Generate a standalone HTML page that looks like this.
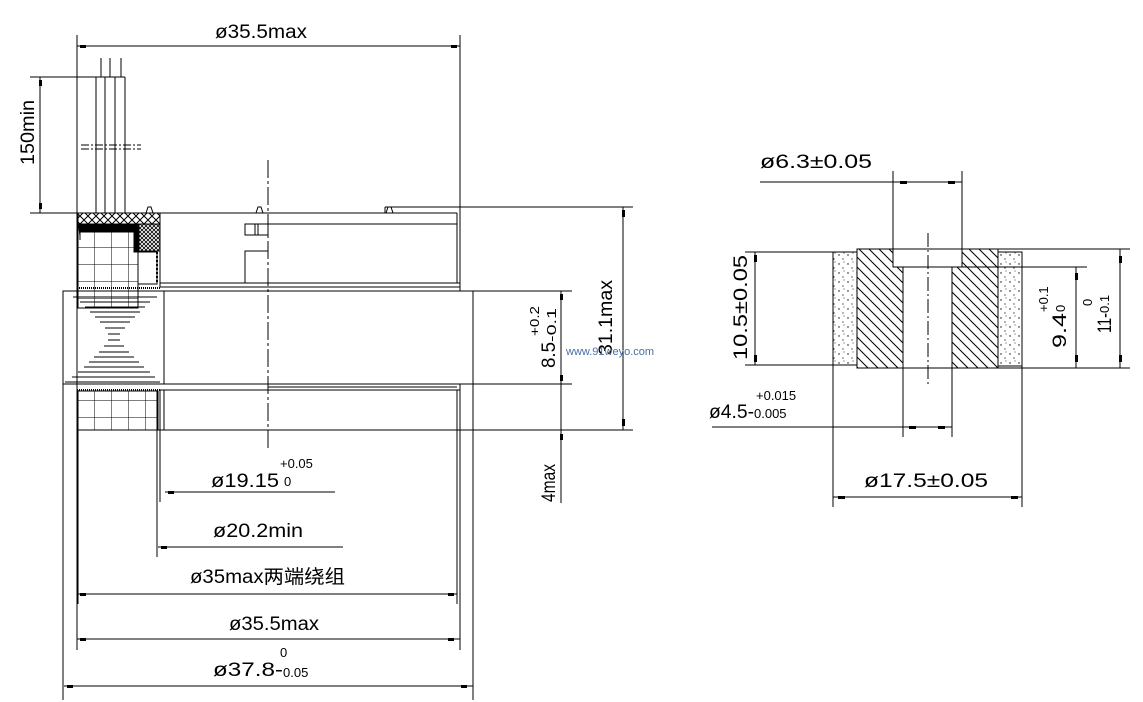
<!DOCTYPE html>
<html><head><meta charset="utf-8"><style>
html,body{margin:0;padding:0;background:#fff;}
svg{display:block;}
text{font-family:"Liberation Sans","Noto Sans CJK SC",sans-serif;fill:#000;}
</style></head><body>
<svg width="1143" height="702" viewBox="0 0 1143 702" xmlns="http://www.w3.org/2000/svg">
<defs>
<pattern id="xh" width="8" height="8" patternUnits="userSpaceOnUse"><path d="M0 0L8 8M8 0L0 8" stroke="#000" stroke-width="1"/></pattern>
<pattern id="xh2" width="4" height="4" patternUnits="userSpaceOnUse"><path d="M0 0L4 4M4 0L0 4" stroke="#000" stroke-width="0.8"/></pattern>
<pattern id="grid" width="17" height="17" patternUnits="userSpaceOnUse" x="77" y="230"><path d="M0 0H17M0 0V17" stroke="#000" stroke-width="1" fill="none"/></pattern>
<pattern id="diag" width="10" height="10" patternUnits="userSpaceOnUse"><path d="M0 0L10 10M-5 5L5 15M5 -5L15 5" stroke="#000" stroke-width="1"/></pattern>
<pattern id="dots" width="9" height="9" patternUnits="userSpaceOnUse"><circle cx="2" cy="3" r="0.7" fill="#000"/><circle cx="6" cy="7" r="0.6" fill="#000"/><circle cx="7" cy="1" r="0.5" fill="#000"/></pattern>
</defs>
<g stroke="#000" stroke-width="1" fill="none">
<line x1="77" y1="46" x2="460" y2="46"/>
<line x1="77" y1="35" x2="77" y2="650"/>
<line x1="460" y1="35" x2="460" y2="291"/>
<line x1="30" y1="77" x2="125" y2="77"/>
<line x1="40" y1="77" x2="40" y2="213"/>
<line x1="30" y1="213" x2="160" y2="213"/>
<line x1="96" y1="77" x2="96" y2="213"/><line x1="105" y1="77" x2="105" y2="213"/><line x1="115" y1="77" x2="115" y2="213"/><line x1="125" y1="77" x2="125" y2="213"/>
<line x1="101" y1="58" x2="101" y2="77"/><line x1="110" y1="58" x2="110" y2="77"/><line x1="121" y1="58" x2="121" y2="77"/>
<line x1="81" y1="145" x2="141" y2="145" stroke-dasharray="8 2 2 2"/><line x1="81" y1="149" x2="141" y2="149" stroke-dasharray="8 2 2 2"/>
<rect x="78" y="213" width="82" height="11" fill="url(#xh)"/>
<rect x="78" y="224" width="60" height="84" fill="url(#grid)"/>
<path d="M78 224H138V252H134V232H80V240" fill="#000" stroke="#000"/>
<rect x="139" y="224" width="21" height="27" fill="url(#xh2)"/>
<rect x="138" y="252" width="19" height="32"/>
<line x1="157" y1="252" x2="157" y2="284" stroke-dasharray="2 2" stroke-width="2"/>
<line x1="160" y1="213" x2="160" y2="287"/>
<line x1="160" y1="213" x2="457" y2="213"/>
<line x1="268" y1="224" x2="457" y2="224"/>
<line x1="457" y1="213" x2="457" y2="283"/>
<line x1="385" y1="207" x2="633" y2="207"/>
<line x1="385" y1="207" x2="385" y2="213"/>
<rect x="245" y="224" width="23" height="11"/>
<line x1="255" y1="224" x2="255" y2="235"/><line x1="258" y1="224" x2="258" y2="235"/>
<path d="M268 251H245V283"/>
<line x1="160" y1="283" x2="268" y2="283"/>
<line x1="160" y1="287" x2="460" y2="287"/>
<line x1="268" y1="283" x2="460" y2="283"/>
<path d="M146 213l2-6h3l2 6M256 213l2-6h3l2 6M386 213l2-6h3l2 6"/>
<rect x="63" y="291" width="101" height="93"/>
<line x1="77" y1="287" x2="77" y2="291"/>
<line x1="164" y1="291" x2="460" y2="291"/>
<line x1="164" y1="384" x2="460" y2="384"/>
<path d="M460 291H473V384H460" />
<line x1="460" y1="291" x2="572" y2="291"/>
<line x1="473" y1="384" x2="572" y2="384"/>
<g stroke-width="1">
<line x1="73" y1="297" x2="157" y2="297"/><line x1="80" y1="302" x2="150" y2="302"/><line x1="85" y1="307" x2="145" y2="307"/><line x1="90" y1="312" x2="140" y2="312"/><line x1="95" y1="317" x2="135" y2="317"/><line x1="100" y1="322" x2="130" y2="322"/><line x1="105" y1="328" x2="125" y2="328"/><line x1="108" y1="334" x2="120" y2="334"/>
<line x1="108" y1="340" x2="120" y2="340"/><line x1="104" y1="346" x2="124" y2="346"/><line x1="99" y1="352" x2="129" y2="352"/><line x1="94" y1="357" x2="134" y2="357"/><line x1="89" y1="362" x2="139" y2="362"/><line x1="84" y1="367" x2="144" y2="367"/><line x1="78" y1="372" x2="150" y2="372"/><line x1="72" y1="377" x2="155" y2="377"/><line x1="65" y1="382" x2="160" y2="382"/>
</g>
<line x1="77" y1="288" x2="160" y2="288" stroke-dasharray="1 1" stroke-width="2"/>
<line x1="77" y1="390" x2="160" y2="390" stroke-dasharray="1 1" stroke-width="2"/>
<rect x="78" y="391" width="80" height="39" fill="url(#grid)"/>
<line x1="160" y1="390" x2="460" y2="390"/>
<line x1="268" y1="387" x2="457" y2="387"/>
<line x1="164" y1="390" x2="164" y2="430"/>
<line x1="90" y1="430" x2="633" y2="430"/>
<line x1="457" y1="390" x2="457" y2="604"/>
<line x1="460" y1="384" x2="460" y2="650"/>
<line x1="473" y1="384" x2="473" y2="700"/>
<line x1="63" y1="384" x2="63" y2="700"/>
<line x1="78" y1="390" x2="78" y2="604"/>
<line x1="160" y1="390" x2="160" y2="502"/>
<line x1="157" y1="390" x2="157" y2="557"/>
<line x1="268" y1="160" x2="268" y2="450" stroke-dasharray="18 3 3 3"/>
<line x1="623" y1="207" x2="623" y2="430"/>
<line x1="561" y1="291" x2="561" y2="503"/>
<line x1="165" y1="492" x2="335" y2="492"/>
<line x1="158" y1="547" x2="343" y2="547"/>
<line x1="78" y1="594" x2="457" y2="594"/>
<line x1="77" y1="639" x2="460" y2="639"/>
<line x1="64" y1="686" x2="473" y2="686"/>

<rect x="833" y="252" width="24" height="113" fill="url(#dots)"/>
<rect x="998" y="252" width="24" height="114" fill="url(#dots)"/>
<path d="M857 249H893V267H903V368H857Z" fill="url(#diag)"/>
<path d="M962 249H998V368H952V267H962Z" fill="url(#diag)"/>
<line x1="857" y1="249" x2="1130" y2="249"/>
<line x1="857" y1="368" x2="1130" y2="368"/>
<line x1="857" y1="249" x2="857" y2="368"/>
<line x1="998" y1="249" x2="998" y2="368"/>
<line x1="893" y1="171" x2="893" y2="267"/>
<line x1="962" y1="171" x2="962" y2="267"/>
<line x1="893" y1="267" x2="1087" y2="267"/>
<line x1="903" y1="267" x2="903" y2="437"/>
<line x1="952" y1="267" x2="952" y2="437"/>
<line x1="928" y1="233" x2="928" y2="387" stroke-dasharray="14 3 2 3"/>
<line x1="745" y1="252" x2="833" y2="252"/>
<line x1="745" y1="365" x2="833" y2="365"/>
<line x1="755" y1="252" x2="755" y2="365"/>
<line x1="1076" y1="267" x2="1076" y2="368"/>
<line x1="1120" y1="249" x2="1120" y2="368"/>
<line x1="760" y1="182" x2="962" y2="182"/>
<line x1="712" y1="427" x2="952" y2="427"/>
<line x1="833" y1="365" x2="833" y2="507"/>
<line x1="1022" y1="366" x2="1022" y2="507"/>
<line x1="833" y1="497" x2="1022" y2="497"/>
</g>
<g fill="#000">
<rect x="80" y="45" width="6" height="3"/><rect x="451" y="45" width="6" height="3"/>
<rect x="39" y="80" width="3" height="6"/><rect x="39" y="203" width="3" height="6"/>
<rect x="622" y="210" width="3" height="7"/><rect x="622" y="419" width="3" height="7"/>
<rect x="560" y="294" width="3" height="6"/><rect x="560" y="375" width="3" height="6"/><rect x="560" y="434" width="3" height="6"/>
<rect x="168" y="491" width="6" height="3"/><rect x="161" y="546" width="6" height="3"/>
<rect x="80" y="593" width="6" height="3"/><rect x="448" y="593" width="6" height="3"/>
<rect x="80" y="638" width="6" height="3"/><rect x="448" y="638" width="6" height="3"/>
<rect x="67" y="685" width="6" height="3"/><rect x="461" y="685" width="6" height="3"/>
<rect x="900" y="181" width="7" height="3"/><rect x="948" y="181" width="7" height="3"/>
<rect x="754" y="255" width="3" height="7"/><rect x="754" y="355" width="3" height="7"/>
<rect x="1075" y="273" width="3" height="7"/><rect x="1075" y="355" width="3" height="7"/>
<rect x="1119" y="256" width="3" height="7"/><rect x="1119" y="355" width="3" height="7"/>
<rect x="909" y="426" width="7" height="3"/><rect x="938" y="426" width="7" height="3"/>
<rect x="838" y="496" width="7" height="3"/><rect x="1011" y="496" width="7" height="3"/>
</g>
<g font-size="19">
<text x="215" y="38" textLength="92" lengthAdjust="spacingAndGlyphs">ø35.5max</text>
<text transform="translate(34,165) rotate(-90)" textLength="65" lengthAdjust="spacingAndGlyphs">150min</text>
<text x="211" y="487" textLength="68" lengthAdjust="spacingAndGlyphs">ø19.15</text>
<text x="280" y="468" font-size="13">+0.05</text>
<text x="284" y="486" font-size="13">0</text>
<text x="213" y="537" textLength="90" lengthAdjust="spacingAndGlyphs">ø20.2min</text>
<text x="190" y="583" textLength="155" lengthAdjust="spacingAndGlyphs">ø35max两端绕组</text>
<text x="229" y="630" textLength="90" lengthAdjust="spacingAndGlyphs">ø35.5max</text>
<text x="213" y="676" textLength="70" lengthAdjust="spacingAndGlyphs">ø37.8-</text>
<text x="283" y="677" font-size="13">0.05</text>
<text x="280" y="657" font-size="13">0</text>
<text transform="translate(612,355) rotate(-90)" textLength="75" lengthAdjust="spacingAndGlyphs">31.1max</text>
<text transform="translate(555,368) rotate(-90)" textLength="26" lengthAdjust="spacingAndGlyphs">8.5</text>
<text transform="translate(556,342) rotate(-90)" font-size="13" textLength="34" lengthAdjust="spacingAndGlyphs">-0.1</text>
<text transform="translate(539,336) rotate(-90)" font-size="13" textLength="30" lengthAdjust="spacingAndGlyphs">+0.2</text>
<text transform="translate(555,502) rotate(-90)" textLength="38" lengthAdjust="spacingAndGlyphs">4max</text>
<text x="760" y="168" textLength="112" lengthAdjust="spacingAndGlyphs">ø6.3±0.05</text>
<text transform="translate(747,360) rotate(-90)" textLength="105" lengthAdjust="spacingAndGlyphs">10.5±0.05</text>
<text transform="translate(1066,348) rotate(-90)" textLength="35" lengthAdjust="spacingAndGlyphs">9.4</text>
<text transform="translate(1048,312) rotate(-90)" font-size="13">+0.1</text>
<text transform="translate(1065,312) rotate(-90)" font-size="13">0</text>
<text transform="translate(1111,333) rotate(-90)" textLength="20" lengthAdjust="spacingAndGlyphs">11-</text>
<text transform="translate(1109,313) rotate(-90)" font-size="13">0.1</text>
<text transform="translate(1092,306) rotate(-90)" font-size="13">0</text>
<text x="709" y="418" textLength="45" lengthAdjust="spacingAndGlyphs">ø4.5-</text>
<text x="754" y="418" font-size="13">0.005</text>
<text x="756" y="400" font-size="13">+0.015</text>
<text x="864" y="487" textLength="124" lengthAdjust="spacingAndGlyphs">ø17.5±0.05</text>
</g>
<text x="566" y="355" font-size="11" style="fill:#4a6fa5">www.91weyo.com</text>
</svg>
</body></html>
